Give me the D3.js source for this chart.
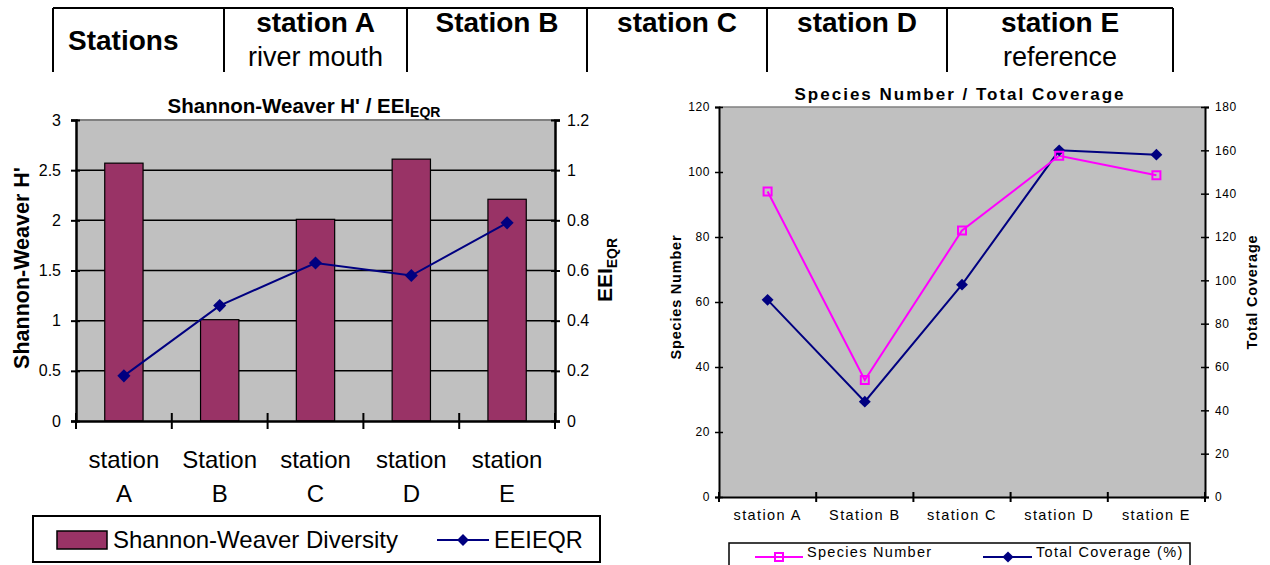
<!DOCTYPE html>
<html>
<head>
<meta charset="utf-8">
<script src="https://cdn.jsdelivr.net/npm/d3@7"></script>
<style>
  body { margin: 0; background: #fff; }
  svg { display: block; font-family: "Liberation Sans", Arial, sans-serif; }
</style>
</head>
<body>
<div id="chart"></div>
<script>
// header table
var headerCols = ["Stations", "station A", "Station B", "station C", "station D", "station E"];
var headerSub = ["", "river mouth", "", "", "", "reference"];

// categories
var stations = ["station A", "Station B", "station C", "station D", "station E"];

// left chart values
var shannon = [2.57, 1.01, 2.01, 2.61, 2.21];
var eei = [0.18, 0.46, 0.63, 0.58, 0.79];
var shannonTicks = [0, 0.5, 1, 1.5, 2, 2.5, 3];
var eeiTicks = [0, 0.2, 0.4, 0.6, 0.8, 1, 1.2];

// right chart values
var speciesNumber = [94, 36, 82, 105, 99];
var totalCoverage = [91, 44, 98, 160, 158];
var speciesTicks = [0, 20, 40, 60, 80, 100, 120];
var coverageTicks = [0, 20, 40, 60, 80, 100, 120, 140, 160, 180];

var W = 1270, H = 565;
var plum = "#993366", navy = "#000080", magenta = "#ff00ff", plotBg = "#c0c0c0";

var svg = d3.select("#chart").append("svg")
  .attr("width", W)
  .attr("height", H);

// ---------- header table ----------
var colEdges = [53, 224, 407, 587, 767, 947, 1173];
var head = svg.append("g").attr("class", "header");
head.append("line")
  .attr("x1", colEdges[0]).attr("x2", colEdges[colEdges.length - 1])
  .attr("y1", 8).attr("y2", 8)
  .attr("stroke", "#000").attr("stroke-width", 2);
head.selectAll(".colLine")
  .data(colEdges)
  .enter().append("line")
  .attr("x1", d => d).attr("x2", d => d)
  .attr("y1", 8).attr("y2", 72)
  .attr("stroke", "#000").attr("stroke-width", 2);

head.selectAll(".headTitle")
  .data(headerCols)
  .enter().append("text")
  .attr("x", (d, i) => i === 0 ? colEdges[0] + 15 : (colEdges[i] + colEdges[i + 1]) / 2)
  .attr("y", (d, i) => i === 0 ? 50 : 32)
  .attr("text-anchor", (d, i) => i === 0 ? "start" : "middle")
  .attr("font-size", 28)
  .attr("font-weight", "bold")
  .text(d => d);

head.selectAll(".headSub")
  .data(headerSub)
  .enter().append("text")
  .attr("x", (d, i) => (colEdges[i] + colEdges[i + 1]) / 2)
  .attr("y", 66)
  .attr("text-anchor", "middle")
  .attr("font-size", 27)
  .text(d => d);

// ---------- left chart: Shannon-Weaver ----------
var L = {x0: 76, x1: 555, y0: 120, y1: 421};

var xL = d3.scaleBand().domain(stations).range([L.x0, L.x1]).paddingInner(0).paddingOuter(0);
var yL = d3.scaleLinear().domain([0, 3]).range([L.y1, L.y0]);
var yL2 = d3.scaleLinear().domain([0, 1.2]).range([L.y1, L.y0]);

var left = svg.append("g").attr("class", "left");

left.append("rect")
  .attr("x", L.x0).attr("y", L.y0)
  .attr("width", L.x1 - L.x0).attr("height", L.y1 - L.y0)
  .attr("fill", plotBg);
left.append("line")
  .attr("x1", L.x0).attr("x2", L.x1).attr("y1", L.y0).attr("y2", L.y0)
  .attr("stroke", "#808080").attr("stroke-width", 2);

// gridlines
left.append("g")
  .selectAll("line")
  .data(shannonTicks.filter(d => d > 0 && d < 3))
  .enter().append("line")
  .attr("x1", L.x0).attr("x2", L.x1)
  .attr("y1", d => yL(d)).attr("y2", d => yL(d))
  .attr("stroke", "#000").attr("stroke-width", 1.5);

// bars
left.append("g")
  .selectAll("rect")
  .data(shannon)
  .enter().append("rect")
  .attr("x", (d, i) => xL(stations[i]) + xL.bandwidth() * 0.3)
  .attr("width", xL.bandwidth() * 0.4)
  .attr("y", d => yL(d))
  .attr("height", d => L.y1 - yL(d))
  .attr("fill", plum)
  .attr("stroke", "#000").attr("stroke-width", 1.2);

// axes
var axL = d3.axisLeft(yL).tickValues(shannonTicks).tickSize(5).tickFormat(d3.format(""));
var gAxL = left.append("g").attr("transform", "translate(" + L.x0 + ",0)").call(axL);
var axR = d3.axisRight(yL2).tickValues(eeiTicks).tickSize(5).tickFormat(d3.format(""));
var gAxR = left.append("g").attr("transform", "translate(" + L.x1 + ",0)").call(axR);
var axB = d3.axisBottom(xL).tickSize(0).tickFormat("");
var gAxB = left.append("g").attr("transform", "translate(0," + L.y1 + ")").call(axB);

[gAxL, gAxR, gAxB].forEach(function(g) {
  g.select(".domain").attr("stroke", "#000").attr("stroke-width", 2.5);
  g.selectAll(".tick line").attr("stroke", "#000").attr("stroke-width", 2);
  g.selectAll(".tick text").attr("font-size", 16).attr("fill", "#000")
    .attr("font-family", "Liberation Sans, Arial, sans-serif");
});
gAxL.selectAll(".tick text").attr("x", -15);
gAxR.selectAll(".tick text").attr("x", 12);
gAxL.selectAll(".tick line").attr("x1", 4);
gAxR.selectAll(".tick line").attr("x1", -4);

// category boundary ticks
left.append("g")
  .selectAll("line")
  .data(stations.concat(["end"]))
  .enter().append("line")
  .attr("x1", (d, i) => i < stations.length ? xL(d) : L.x1)
  .attr("x2", (d, i) => i < stations.length ? xL(d) : L.x1)
  .attr("y1", L.y1 - 8).attr("y2", L.y1 + 8)
  .attr("stroke", "#000").attr("stroke-width", 2);

// category labels (two lines)
var catL = left.append("g")
  .selectAll("text")
  .data(stations)
  .enter().append("text")
  .attr("x", d => xL(d) + xL.bandwidth() / 2)
  .attr("y", 468)
  .attr("text-anchor", "middle")
  .attr("font-size", 24);
catL.append("tspan").attr("x", d => xL(d) + xL.bandwidth() / 2).text(d => d.split(" ")[0]);
catL.append("tspan").attr("x", d => xL(d) + xL.bandwidth() / 2).attr("dy", 34).text(d => d.split(" ")[1]);

// EEI line
var lineL = d3.line()
  .x((d, i) => xL(stations[i]) + xL.bandwidth() / 2)
  .y(d => yL2(d));
left.append("path")
  .datum(eei)
  .attr("d", lineL)
  .attr("fill", "none").attr("stroke", navy).attr("stroke-width", 2);
var diamond = d3.symbol().type(d3.symbolDiamond2);
left.append("g")
  .selectAll("path")
  .data(eei)
  .enter().append("path")
  .attr("d", diamond.size(110)())
  .attr("transform", (d, i) => "translate(" + (xL(stations[i]) + xL.bandwidth() / 2) + "," + yL2(d) + ")")
  .attr("fill", navy);

// titles
var tL = left.append("text")
  .attr("x", 304).attr("y", 113)
  .attr("text-anchor", "middle")
  .attr("font-size", 20.5).attr("font-weight", "bold");
tL.append("tspan").text("Shannon-Weaver H' / EEI");
tL.append("tspan").attr("font-size", 14).attr("dy", 4).text("EQR");

left.append("text")
  .attr("transform", "translate(29,268) rotate(-90)")
  .attr("text-anchor", "middle")
  .attr("font-size", 21.5).attr("font-weight", "bold")
  .text("Shannon-Weaver H'");

var tR = left.append("text")
  .attr("transform", "translate(612,270) rotate(-90)")
  .attr("text-anchor", "middle")
  .attr("font-size", 21).attr("font-weight", "bold");
tR.append("tspan").text("EEI");
tR.append("tspan").attr("font-size", 14).attr("dy", 5).text("EQR");

// legend
var legL = left.append("g");
legL.append("rect")
  .attr("x", 33).attr("y", 516).attr("width", 567).attr("height", 46)
  .attr("fill", "#fff").attr("stroke", "#000").attr("stroke-width", 2);
legL.append("rect")
  .attr("x", 57).attr("y", 531).attr("width", 50).attr("height", 18)
  .attr("fill", plum).attr("stroke", "#000").attr("stroke-width", 1.5);
legL.append("text")
  .attr("x", 113).attr("y", 548).attr("font-size", 24)
  .text("Shannon-Weaver Diversity");
legL.append("line")
  .attr("x1", 437).attr("x2", 489).attr("y1", 540).attr("y2", 540)
  .attr("stroke", navy).attr("stroke-width", 2);
legL.append("path")
  .attr("d", diamond.size(90)())
  .attr("transform", "translate(463,540)")
  .attr("fill", navy);
legL.append("text")
  .attr("x", 494).attr("y", 548).attr("font-size", 23.5)
  .text("EEIEQR");

// ---------- right chart: Species / Coverage ----------
var R = {x0: 719, x1: 1205, y0: 107, y1: 497};

var xR = d3.scaleBand().domain(stations).range([R.x0, R.x1]);
var yR = d3.scaleLinear().domain([0, 120]).range([R.y1, R.y0]);
var yR2 = d3.scaleLinear().domain([0, 180]).range([R.y1, R.y0]);
var cx = (d, i) => xR(stations[i]) + xR.bandwidth() / 2;

var right = svg.append("g").attr("class", "right");
right.append("rect")
  .attr("x", R.x0).attr("y", R.y0)
  .attr("width", R.x1 - R.x0).attr("height", R.y1 - R.y0)
  .attr("fill", plotBg);
right.append("line")
  .attr("x1", R.x0).attr("x2", R.x1).attr("y1", R.y0).attr("y2", R.y0)
  .attr("stroke", "#808080").attr("stroke-width", 1.5);

var raL = right.append("g").attr("transform", "translate(" + R.x0 + ",0)")
  .call(d3.axisLeft(yR).tickValues(speciesTicks).tickSize(4));
var raR = right.append("g").attr("transform", "translate(" + R.x1 + ",0)")
  .call(d3.axisRight(yR2).tickValues(coverageTicks).tickSize(4));
var raB = right.append("g").attr("transform", "translate(0," + R.y1 + ")")
  .call(d3.axisBottom(xR).tickSize(0));

[raL, raR, raB].forEach(function(g) {
  g.select(".domain").attr("stroke", "#000").attr("stroke-width", 2);
  g.selectAll(".tick line").attr("stroke", "#000").attr("stroke-width", 1.5);
  g.selectAll(".tick text").attr("font-size", 12).attr("fill", "#000")
    .attr("letter-spacing", 0.6)
    .attr("font-family", "Liberation Sans, Arial, sans-serif");
});
raL.selectAll(".tick line").attr("x1", 4);
raL.selectAll(".tick text").attr("x", -9);
raR.selectAll(".tick line").attr("x1", -4);
raR.selectAll(".tick text").attr("x", 10);
raB.selectAll(".tick text").attr("font-size", 14.5).attr("letter-spacing", 1.4).attr("dy", "1.35em");

right.append("g")
  .selectAll("line")
  .data(stations.concat(["end"]))
  .enter().append("line")
  .attr("x1", (d, i) => i < stations.length ? xR(d) : R.x1)
  .attr("x2", (d, i) => i < stations.length ? xR(d) : R.x1)
  .attr("y1", R.y1 - 5).attr("y2", R.y1 + 5)
  .attr("stroke", "#000").attr("stroke-width", 2);

var lineSp = d3.line().x(cx).y(d => yR(d));
var lineCov = d3.line().x(cx).y(d => yR2(d));

right.append("path").datum(totalCoverage).attr("d", lineCov)
  .attr("fill", "none").attr("stroke", navy).attr("stroke-width", 2);
right.append("path").datum(speciesNumber).attr("d", lineSp)
  .attr("fill", "none").attr("stroke", magenta).attr("stroke-width", 2);

right.append("g").selectAll("path")
  .data(totalCoverage)
  .enter().append("path")
  .attr("d", diamond.size(90)())
  .attr("transform", (d, i) => "translate(" + cx(d, i) + "," + yR2(d) + ")")
  .attr("fill", navy);
right.append("g").selectAll("rect")
  .data(speciesNumber)
  .enter().append("rect")
  .attr("x", (d, i) => cx(d, i) - 4).attr("y", d => yR(d) - 4)
  .attr("width", 8).attr("height", 8)
  .attr("fill", "none").attr("stroke", magenta).attr("stroke-width", 2);

right.append("text")
  .attr("x", 960).attr("y", 100)
  .attr("text-anchor", "middle")
  .attr("font-size", 17).attr("font-weight", "bold").attr("letter-spacing", 2)
  .text("Species Number / Total Coverage");
right.append("text")
  .attr("transform", "translate(681,297) rotate(-90)")
  .attr("text-anchor", "middle")
  .attr("font-size", 14.5).attr("font-weight", "bold").attr("letter-spacing", 0.8)
  .text("Species Number");
right.append("text")
  .attr("transform", "translate(1257,292) rotate(-90)")
  .attr("text-anchor", "middle")
  .attr("font-size", 14.5).attr("font-weight", "bold").attr("letter-spacing", 0.8)
  .text("Total Coverage");

var legR = right.append("g");
legR.append("rect")
  .attr("x", 729).attr("y", 543).attr("width", 461).attr("height", 40)
  .attr("fill", "#fff").attr("stroke", "#000").attr("stroke-width", 1.5);
legR.append("line")
  .attr("x1", 755).attr("x2", 803).attr("y1", 557).attr("y2", 557)
  .attr("stroke", magenta).attr("stroke-width", 2);
legR.append("rect")
  .attr("x", 775).attr("y", 553).attr("width", 8).attr("height", 8)
  .attr("fill", "none").attr("stroke", magenta).attr("stroke-width", 2);
legR.append("text")
  .attr("x", 807).attr("y", 557).attr("font-size", 14.5).attr("letter-spacing", 1.3)
  .text("Species Number");
legR.append("line")
  .attr("x1", 983).attr("x2", 1032).attr("y1", 557).attr("y2", 557)
  .attr("stroke", navy).attr("stroke-width", 2);
legR.append("path")
  .attr("d", diamond.size(80)())
  .attr("transform", "translate(1008,557)")
  .attr("fill", navy);
legR.append("text")
  .attr("x", 1036).attr("y", 557).attr("font-size", 14.5).attr("letter-spacing", 1.3)
  .text("Total Coverage (%)");
</script>
</body>
</html>
